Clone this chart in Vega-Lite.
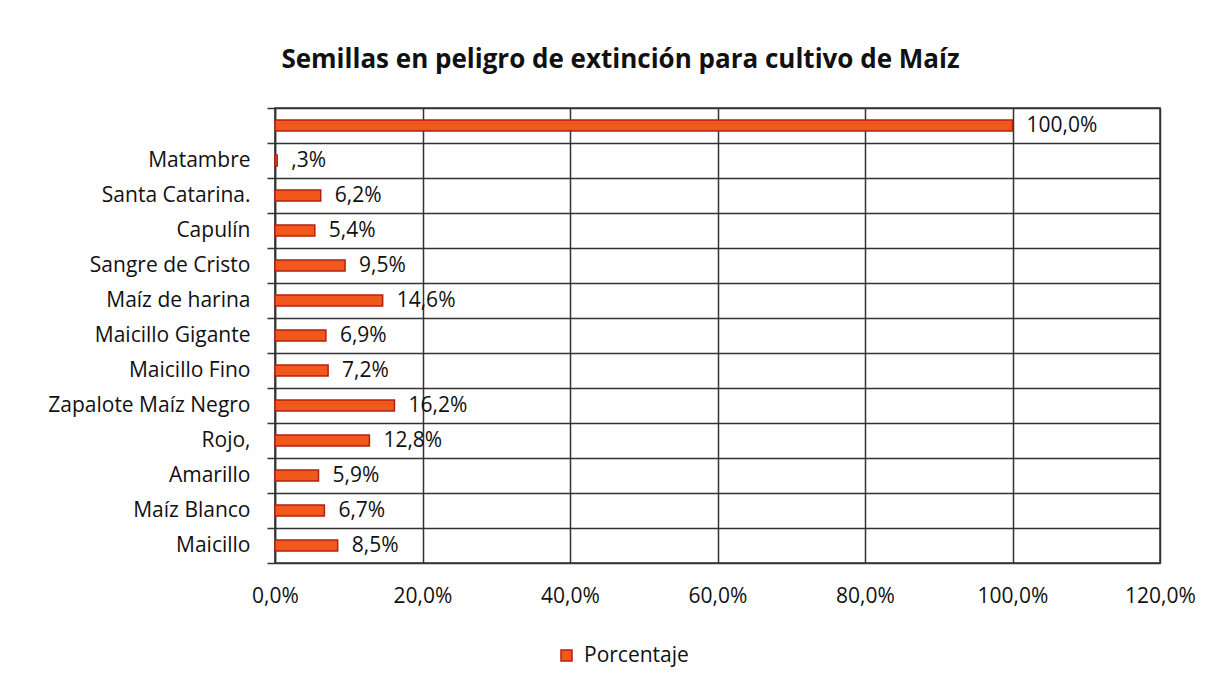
{
  "$schema": "https://vega.github.io/schema/vega-lite/v6.json",
  "width": 885,
  "height": 455,
  "autosize": {"type": "none"},
  "padding": {"left": 275, "top": 108, "right": 58, "bottom": 127},
  "background": "white",
  "config": {
    "font": "Open Sans",
    "locale": {"number": {"decimal": ",", "thousands": ".", "grouping": [3], "currency": ["", " €"]}},
    "view": {"stroke": "#333333", "strokeWidth": 1.5}
  },
  "title": {
    "text": "Semillas en peligro de extinción para cultivo de Maíz",
    "fontSize": 26,
    "fontWeight": "bold",
    "color": "#111111",
    "anchor": "middle",
    "dx": -97,
    "offset": 24
  },
  "data": {
    "values": [
      {"cat": " ", "value": 1.0, "lbl": "100,0%", "serie": "Porcentaje"},
      {"cat": "Matambre", "value": 0.003, "lbl": ",3%", "serie": "Porcentaje"},
      {"cat": "Santa Catarina.", "value": 0.062, "lbl": "6,2%", "serie": "Porcentaje"},
      {"cat": "Capulín", "value": 0.054, "lbl": "5,4%", "serie": "Porcentaje"},
      {"cat": "Sangre de Cristo", "value": 0.095, "lbl": "9,5%", "serie": "Porcentaje"},
      {"cat": "Maíz de harina", "value": 0.146, "lbl": "14,6%", "serie": "Porcentaje"},
      {"cat": "Maicillo Gigante", "value": 0.069, "lbl": "6,9%", "serie": "Porcentaje"},
      {"cat": "Maicillo Fino", "value": 0.072, "lbl": "7,2%", "serie": "Porcentaje"},
      {"cat": "Zapalote Maíz Negro", "value": 0.162, "lbl": "16,2%", "serie": "Porcentaje"},
      {"cat": "Rojo,", "value": 0.128, "lbl": "12,8%", "serie": "Porcentaje"},
      {"cat": "Amarillo", "value": 0.059, "lbl": "5,9%", "serie": "Porcentaje"},
      {"cat": "Maíz Blanco", "value": 0.067, "lbl": "6,7%", "serie": "Porcentaje"},
      {"cat": "Maicillo", "value": 0.085, "lbl": "8,5%", "serie": "Porcentaje"}
    ]
  },
  "encoding": {
    "y": {
      "field": "cat",
      "type": "nominal",
      "sort": null,
      "scale": {"paddingInner": 0, "paddingOuter": 0},
      "axis": {
        "title": null,
        "tickBand": "extent",
        "grid": true,
        "gridColor": "#333333",
        "gridWidth": 1.5,
        "ticks": true,
        "tickSize": 8,
        "tickColor": "#333333",
        "tickWidth": 1.5,
        "domain": true,
        "domainColor": "#333333",
        "domainWidth": 1.5,
        "labelFontSize": 21,
        "labelColor": "#111111",
        "labelPadding": 17,
        "labelLimit": 400
      }
    },
    "x": {
      "field": "value",
      "type": "quantitative",
      "scale": {"domain": [0, 1.2], "nice": false},
      "axis": {
        "title": null,
        "values": [0, 0.2, 0.4, 0.6, 0.8, 1.0, 1.2],
        "format": ".1%",
        "grid": true,
        "gridColor": "#333333",
        "gridWidth": 1.5,
        "ticks": false,
        "domain": false,
        "labelFlush": false,
        "labelFontSize": 21,
        "labelColor": "#111111",
        "labelPadding": 22
      }
    }
  },
  "layer": [
    {
      "mark": {"type": "bar", "size": 11, "stroke": "#b3220f", "strokeWidth": 1.5},
      "encoding": {
        "color": {
          "field": "serie",
          "type": "nominal",
          "scale": {"range": ["#f2571c"]},
          "legend": {
            "title": null,
            "orient": "none",
            "legendX": 281,
            "legendY": 537,
            "padding": 0,
            "symbolType": "square",
            "symbolSize": 121,
            "symbolStrokeColor": "#b3220f",
            "symbolStrokeWidth": 1.5,
            "labelFontSize": 21,
            "labelColor": "#111111",
            "labelOffset": 7
          }
        }
      }
    },
    {
      "mark": {"type": "text", "align": "left", "baseline": "middle", "dx": 14, "fontSize": 21, "color": "#111111"},
      "encoding": {"text": {"field": "lbl"}}
    }
  ]
}
